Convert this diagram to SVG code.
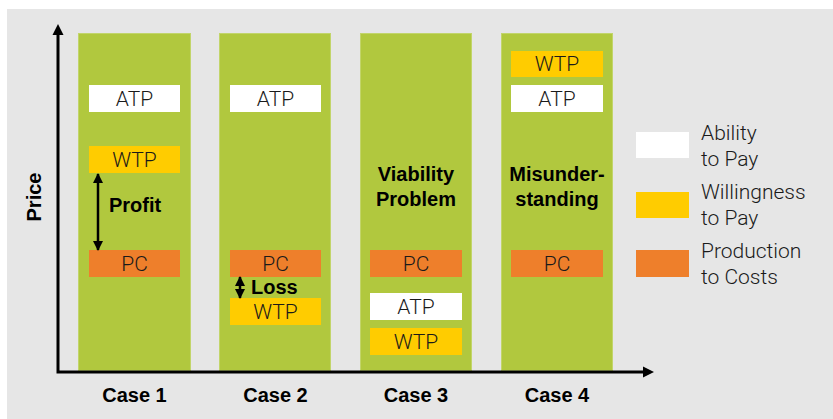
<svg xmlns="http://www.w3.org/2000/svg" width="833" height="419" viewBox="0 0 833 419">
<defs>
<style>
.col{fill:#b1c83e;stroke:#c2d56a;stroke-width:1}
.atp{fill:#ffffff}
.wtp{fill:#ffcc00}
.pc{fill:#ee7f2b}
.bt{font-family:Roboto,"Liberation Sans",sans-serif;font-weight:300;font-size:21px;fill:#1a1a1a;text-anchor:middle}
.lg{font-family:Roboto,"Liberation Sans",sans-serif;font-weight:300;font-size:21px;fill:#1a1a1a}
.b{font-family:"Liberation Sans",Arial,sans-serif;font-weight:bold;font-size:20px;fill:#000}
.ax{stroke:#000;stroke-width:3;fill:none}
</style>
<marker id="ah" viewBox="0 0 10 10" refX="9" refY="5" markerWidth="4" markerHeight="4" orient="auto-start-reverse">
<path d="M0,0 L10,5 L0,10 z" fill="#000"/>
</marker>
</defs>
<rect x="7" y="9" width="826" height="410" fill="#e6e6e6"/>

<g id="case1">
<rect class="col" x="78.5" y="33.5" width="112" height="337"/>
<rect class="atp" x="89" y="85" width="91" height="27"/>
<text class="bt" x="134.5" y="106">ATP</text>
<rect class="wtp" x="89" y="146" width="91" height="27"/>
<text class="bt" x="134.5" y="167">WTP</text>
<rect class="pc" x="89" y="250" width="91" height="27"/>
<text class="bt" x="134.5" y="271">PC</text>
<text class="b" x="109" y="212">Profit</text>
</g>

<g id="case2">
<rect class="col" x="219.5" y="33.5" width="111" height="337"/>
<rect class="atp" x="230" y="85" width="91" height="27"/>
<text class="bt" x="275.5" y="106">ATP</text>
<rect class="pc" x="230" y="250" width="91" height="27"/>
<text class="bt" x="275.5" y="271">PC</text>
<rect class="wtp" x="230" y="298" width="91" height="27"/>
<text class="bt" x="275.5" y="319">WTP</text>
<text class="b" x="251" y="294">Loss</text>
</g>

<g id="case3">
<rect class="col" x="360.5" y="33.5" width="111" height="337"/>
<rect class="pc" x="370" y="250" width="92" height="27"/>
<text class="bt" x="416" y="271">PC</text>
<rect class="atp" x="370" y="293" width="92" height="27"/>
<text class="bt" x="416" y="314">ATP</text>
<rect class="wtp" x="370" y="328" width="92" height="27"/>
<text class="bt" x="416" y="349">WTP</text>
<text class="b" x="416" y="181" text-anchor="middle">Viability</text>
<text class="b" x="416" y="206" text-anchor="middle">Problem</text>
</g>

<g id="case4">
<rect class="col" x="501.5" y="33.5" width="111" height="337"/>
<rect class="wtp" x="511" y="51" width="92" height="26"/>
<text class="bt" x="557" y="71">WTP</text>
<rect class="atp" x="511" y="85" width="92" height="27"/>
<text class="bt" x="557" y="106">ATP</text>
<rect class="pc" x="511" y="250" width="92" height="27"/>
<text class="bt" x="557" y="271">PC</text>
<text class="b" x="557" y="181" text-anchor="middle">Misunder-</text>
<text class="b" x="557" y="206" text-anchor="middle">standing</text>
</g>

<g id="legend">
<rect class="atp" x="636" y="132" width="53" height="26"/>
<text class="lg" x="701" y="140">Ability</text>
<text class="lg" x="701" y="166">to Pay</text>
<rect class="wtp" x="636" y="192" width="53" height="26"/>
<text class="lg" x="701" y="199">Willingness</text>
<text class="lg" x="701" y="225">to Pay</text>
<rect class="pc" x="636" y="250" width="53" height="27"/>
<text class="lg" x="701" y="258">Production</text>
<text class="lg" x="701" y="284">to Costs</text>
</g>

<g id="axes">
<text class="b" x="0" y="0" transform="translate(41,197) rotate(-90)" text-anchor="middle">Price</text>
<text class="b" x="134.5" y="402" text-anchor="middle">Case 1</text>
<text class="b" x="275.5" y="402" text-anchor="middle">Case 2</text>
<text class="b" x="416" y="402" text-anchor="middle">Case 3</text>
<text class="b" x="557" y="402" text-anchor="middle">Case 4</text>
</g>

<g id="connectors">
<polyline class="ax" points="58,34 58,372 644,372"/>
<path d="M58,24 L63.5,35 L52.5,35 z" fill="#000"/>
<path d="M654,372 L643,366.5 L643,377.5 z" fill="#000"/>
<line x1="98" y1="174" x2="98" y2="250" stroke="#000" stroke-width="2.5" marker-start="url(#ah)" marker-end="url(#ah)"/>
<line x1="240" y1="277" x2="240" y2="298" stroke="#000" stroke-width="2.5" marker-start="url(#ah)" marker-end="url(#ah)"/>
</g>
</svg>
